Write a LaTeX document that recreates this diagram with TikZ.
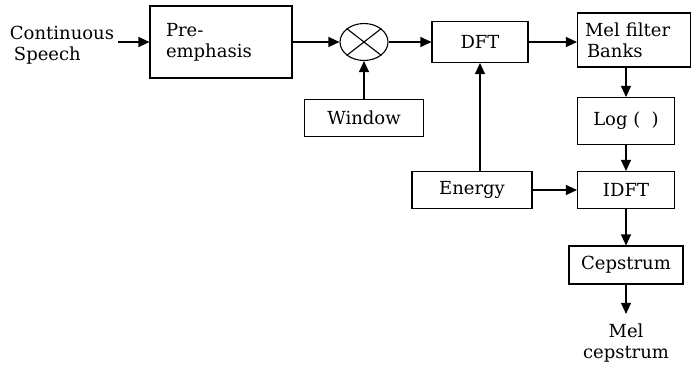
\documentclass[tikz,border=0pt]{standalone}
\usepackage{fontspec}
\setmainfont{DejaVu Serif}
\usetikzlibrary{shapes.geometric,arrows.meta,positioning}

\begin{document}
\begin{tikzpicture}[
            x=1pt, y=-1pt,
            font=\fontsize{18}{21}\selectfont,
            block/.style={rectangle, draw, line width=1.1pt, inner sep=2pt},
            every path/.style={line width=1.1pt},
            flow/.style={-{Triangle[length=11pt,width=10pt]}}
          ]
          \useasboundingbox (0,0) rectangle (692,370);

          % Nodes
          \node[align=left] (speech) at (62,45) {Continuous\\\hspace{4pt}Speech};
          \node[block, minimum width=142, minimum height=72, text width=110, align=left] (pre) at (221,42) {Pre-\\emphasis};
          \node[ellipse, draw, line width=1.1pt, minimum width=48, minimum height=37] (mult) at (364,42) {};
          \draw (mult.north west) -- (mult.south east);
          \draw (mult.north east) -- (mult.south west);
          \node[block, minimum width=119, minimum height=37] (window) at (364,118) {Window};
          \node[block, minimum width=96, minimum height=41] (dft) at (480,42) {DFT};
          \node[block, minimum width=113, minimum height=54, text width=98, align=left] (mel) at (634,40) {Mel filter\\\hspace{2pt}Banks};
          \node[block, minimum width=97, minimum height=47] (log) at (626,121) {Log (\ \ )};
          \node[block, minimum width=97, minimum height=37] (idft) at (626,190) {IDFT};
          \node[block, minimum width=120, minimum height=37] (energy) at (472,190) {Energy};
          \node[block, minimum width=114, minimum height=38] (ceps) at (626,265) {Cepstrum};
          \node[align=center] (out) at (626,343) {Mel\\cepstrum};

          % Edges
          \draw[flow] (speech.east |- pre) -- (pre);
          \draw[flow] (pre) -- (mult);
          \draw[flow] (window) -- (mult);
          \draw[flow] (mult) -- (dft);
          \draw[flow] (dft.east) -- (dft.east -| mel.west);
          \draw[flow] (mel.south -| log.north) -- (log);
          \draw[flow] (log) -- (idft);
          \draw[flow] (energy) -- (idft);
          \draw[flow] (energy.north -| dft.south) -- (dft);
          \draw[flow] (idft) -- (ceps);
          \draw[flow, shorten >=6pt] (ceps) -- (out);

        \end{tikzpicture}
\end{document}
